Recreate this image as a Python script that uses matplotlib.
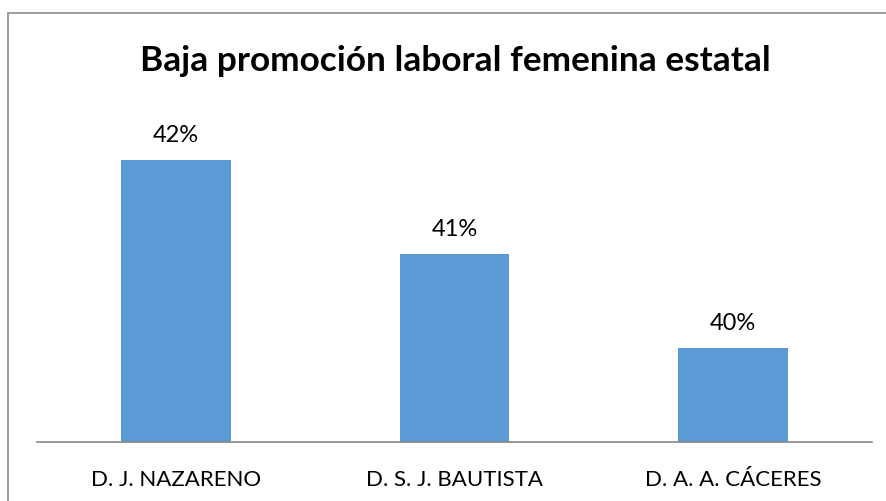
import matplotlib
matplotlib.use('Agg')
import matplotlib.pyplot as plt
from matplotlib.patches import Rectangle

categories = ['D. J. NAZARENO', 'D. S. J. BAUTISTA', 'D. A. A. CÁCERES']
values = [0.42, 0.41, 0.40]
labels = ['42%', '41%', '40%']

plt.rcParams['font.family'] = ['Lato', 'DejaVu Sans']

fig = plt.figure(figsize=(8.86, 5.02), dpi=100)
# outer chart border (only left and top visible in crop)
fig.patches.append(Rectangle((8/886, -0.1), 1.2, (502-14)/502 + 0.1,
                             transform=fig.transFigure, fill=False,
                             edgecolor='#8c8c8c', lw=1.2))

ax = fig.add_axes([37/886, 59/502, 835/886, 331/502])
x = range(len(categories))
ax.bar(x, values, width=0.395, color='#5B9BD5', zorder=2)
ax.set_xlim(-0.5, 2.5)
ax.set_ylim(0.39, 0.4252)

for xi, v, t in zip(x, values, labels):
    ax.annotate(t, (xi, v), xytext=(0, 11), textcoords='offset points',
                ha='center', va='bottom', fontsize=17, color='#000000')

ax.set_xticks(list(x))
ax.set_xticklabels(categories, fontsize=16)
ax.tick_params(axis='x', length=0, pad=19.5)
ax.set_yticks([])
for s in ['left', 'right', 'top']:
    ax.spines[s].set_visible(False)
ax.spines['bottom'].set_color('#868686')
ax.spines['bottom'].set_linewidth(1.2)

fig.text(455/886, 1 - 61/502, 'Baja promoción laboral femenina estatal',
         ha='center', va='center', fontsize=25.4, fontweight='bold')

fig.savefig('out.png', dpi=100)
